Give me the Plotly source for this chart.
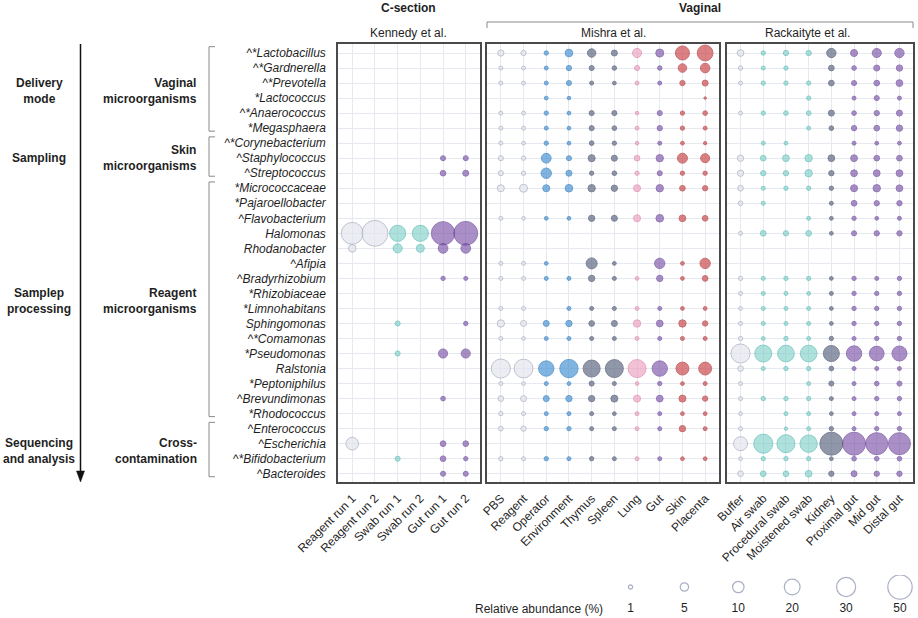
import math
import plotly.graph_objects as go
from plotly.subplots import make_subplots

# ---------------- data ----------------
species = [
    "^*Lactobacillus", "^*Gardnerella", "^*Prevotella", "*Lactococcus", "^*Anaerococcus",
    "*Megasphaera", "^*Corynebacterium", "^Staphylococcus", "^Streptococcus",
    "*Micrococcaceae", "*Pajaroellobacter", "^Flavobacterium", "Halomonas", "Rhodanobacter",
    "^Afipia", "^Bradyrhizobium", "*Rhizobiaceae", "*Limnohabitans", "Sphingomonas",
    "^*Comamonas", "*Pseudomonas", "Ralstonia", "*Peptoniphilus", "^Brevundimonas",
    "*Rhodococcus", "^Enterococcus", "^Escherichia", "^*Bifidobacterium", "^Bacteroides",
]

groups = [
    ("Vaginal<br>microorganisms", "Delivery<br>mode", 0, 5),
    ("Skin<br>microorganisms", "Sampling", 6, 8),
    ("Reagent<br>microorganisms", "Samplep<br>processing", 9, 24),
    ("Cross-<br>contamination", "Sequencing<br>and analysis", 25, 28),
]

kennedy_samples = ["Reagent run 1", "Reagent run 2", "Swab run 1", "Swab run 2", "Gut run 1", "Gut run 2"]
kennedy_types = ["reagent", "reagent", "swab", "swab", "gut", "gut"]
kennedy = [
    [0, 0, 0, 0, 0, 0],
    [0, 0, 0, 0, 0, 0],
    [0, 0, 0, 0, 0, 0],
    [0, 0, 0, 0, 0, 0],
    [0, 0, 0, 0, 0, 0],
    [0, 0, 0, 0, 0, 0],
    [0, 0, 0, 0, 0, 0],
    [0, 0, 0, 0, 1.5, 1.5],
    [0, 0, 0, 0, 2, 2.3],
    [0, 0, 0, 0, 0, 0],
    [0, 0, 0, 0, 0, 0],
    [0, 0, 0, 0, 0, 0],
    [40, 57, 21, 21, 46, 48],
    [4, 0, 6, 4.5, 7, 7],
    [0, 0, 0, 0, 0, 0],
    [0, 0, 0, 0, 1, 0.8],
    [0, 0, 0, 0, 0, 0],
    [0, 0, 0, 0, 0, 0],
    [0, 0, 1.5, 0, 0, 1],
    [0, 0, 0, 0, 0, 0],
    [0, 0, 1.5, 0, 6, 6],
    [0, 0, 0, 0, 0, 0],
    [0, 0, 0, 0, 0, 0],
    [0, 0, 0, 0, 1.2, 0],
    [0, 0, 0, 0, 0, 0],
    [0, 0, 0, 0, 0, 0],
    [12.5, 0, 0, 0, 2, 2],
    [0, 0, 1.5, 0, 2, 1],
    [0, 0, 0, 0, 1.5, 1.5],
]

mishra_samples = ["PBS", "Reagent", "Operator", "Environment", "Thymus", "Spleen", "Lung", "Gut", "Skin", "Placenta"]
mishra_types = ["reagent", "reagent", "operator", "operator", "organ", "organ", "lung", "gut", "skin", "skin"]
mishra = [
    [2.5, 1.7, 1, 4, 5, 2.3, 6, 4.5, 15.5, 20],
    [0.8, 0.8, 0.8, 1.7, 1.5, 1.1, 1.5, 1.1, 5.2, 6.6],
    [0.8, 0.8, 0.8, 1.5, 0.8, 0.7, 0.8, 0.8, 1.7, 2.3],
    [0, 0, 0.7, 0.6, 0, 0, 0, 0, 0, 0.2],
    [0.8, 0.8, 1, 0.7, 1.5, 1.5, 0.6, 1.5, 1, 1.2],
    [0.8, 0.8, 0.8, 0.7, 1.5, 1.2, 0.8, 1.7, 1, 0.8],
    [0.8, 0.7, 1, 0.7, 1.2, 1, 0.6, 0.8, 0.7, 0.5],
    [1.5, 1, 7, 1.5, 3.3, 2.3, 2, 3.7, 7.4, 5.9],
    [1.5, 1, 8, 2.3, 1, 1.2, 1, 1.5, 1, 1],
    [3.3, 4.5, 3.3, 4, 3.7, 2.6, 3.3, 3.7, 2, 1.7],
    [0, 0, 0, 0, 0, 0, 0, 0, 0, 0],
    [0.8, 0.7, 0.7, 0.7, 2.6, 2.3, 3.3, 4, 3, 2],
    [0, 0, 0, 0, 0, 0, 0, 0, 0, 0],
    [0, 0, 0, 0, 0, 0, 0, 0, 0, 0],
    [0.8, 0.8, 0.7, 0, 9.2, 0.7, 0, 8, 0.7, 8],
    [0.8, 0.8, 0.8, 0.8, 2.6, 0.8, 0.7, 2.6, 0.7, 2],
    [0, 0, 0, 0, 0, 0, 0, 0, 0, 0],
    [0.8, 0.8, 0, 0.8, 0.8, 0.8, 0.8, 0.8, 0.7, 0.7],
    [3.7, 2.3, 2.3, 2.6, 2, 2.3, 3.7, 3, 3.7, 1.7],
    [0.8, 0.7, 0.8, 0.8, 0.8, 0.8, 0.8, 0.8, 0.8, 0.8],
    [0, 0, 0, 0, 0, 0, 0, 0, 0, 0],
    [30, 29, 19, 27.5, 23.5, 26.5, 26.5, 19, 13, 13],
    [0.8, 0.7, 0.8, 0.7, 1.5, 0.8, 0.7, 1, 0.7, 0.8],
    [2, 2.3, 2.3, 2.6, 2.6, 3.3, 3.3, 3, 3.3, 1.7],
    [1, 0.8, 0.8, 0.8, 0.8, 0.7, 0.8, 0.8, 0.7, 0.7],
    [1.2, 1.7, 1, 1, 0.8, 0.8, 0.8, 0.8, 2.6, 0.8],
    [0, 0, 0, 0, 0, 0, 0, 0, 0, 0],
    [1, 0.8, 1, 0.8, 1, 0.8, 0.8, 0.8, 0.7, 0.7],
    [0, 0, 0, 0, 0, 0, 0, 0, 0, 0],
]

rack_samples = ["Buffer", "Air swab", "Procedural swab", "Moistened swab", "Kidney", "Proximal gut", "Mid gut", "Distal gut"]
rack_types = ["reagent", "swab", "swab", "swab", "organ", "gut", "gut", "gut"]
rack = [
    [3, 1, 1.7, 1.7, 6.3, 3.3, 5.9, 6.3],
    [1, 0.8, 1, 0, 2, 1.2, 2.3, 2.6],
    [0.8, 1, 1, 1, 2, 1.5, 2, 3],
    [0, 0, 0, 1, 0, 0.8, 1.5, 0.8],
    [0.8, 1, 1.2, 1.2, 2.3, 1.2, 1.7, 2.3],
    [0, 0, 0, 0.8, 1.2, 1.7, 2, 2.6],
    [0, 0.8, 0.7, 0, 0, 0.8, 0.7, 0.7],
    [2.6, 2, 3, 3.7, 3, 3, 2, 2],
    [2.6, 1.7, 1.7, 3.7, 1.7, 3, 3, 3],
    [2, 0.8, 1, 1, 1, 3.3, 3.7, 3],
    [1.2, 0.8, 0, 0, 0.8, 2, 1.7, 1.7],
    [0, 0, 0, 0.8, 0.7, 1, 0.7, 0.8],
    [0.8, 2, 1.7, 2, 0.7, 1.5, 1.7, 1.7],
    [0, 0, 0, 0, 0, 0, 0, 0],
    [0, 0, 0, 0, 0, 0, 0, 0],
    [1, 0.8, 1, 1, 0.7, 1, 0.8, 1],
    [0.8, 0.8, 0.8, 0.7, 0.8, 1, 1, 1],
    [0.7, 0.8, 0.8, 0.8, 0.7, 1, 1, 1],
    [0.8, 0.8, 0.8, 0.8, 0.7, 1, 1, 1],
    [1, 0.7, 1, 0.8, 1, 0.8, 1, 1],
    [30, 23.5, 22.5, 22.5, 20.7, 19, 17.3, 18],
    [2, 0.8, 1, 1, 1.2, 0.8, 0.8, 0.8],
    [0.8, 0, 0, 0.8, 1.5, 0.8, 1.2, 1.5],
    [0.8, 1, 1, 1, 0.8, 0.8, 1, 1],
    [0.7, 0, 0.8, 0.8, 0.7, 0.8, 0.8, 0.8],
    [0.8, 0, 0.5, 0.8, 1, 0.8, 1, 1],
    [15.5, 30, 26.5, 24.5, 44.4, 44.4, 40.5, 40.5],
    [0.7, 1, 1, 1, 0.7, 1.2, 1.2, 1.2],
    [2, 2, 2, 3, 1.7, 2.3, 1.7, 1.7],
]

legend_values = [1, 5, 10, 20, 30, 50]

# ---------------- styles ----------------
FONT = "Liberation Sans, Arial, Helvetica, sans-serif"
TXT = "#1f1f1f"
colors = {
    "reagent": ("rgba(226,228,238,0.92)", "#a6aabf"),
    "swab": ("rgba(120,205,198,0.85)", "#55bbb3"),
    "operator": ("rgba(58,140,208,0.9)", "#2a78bd"),
    "organ": ("rgba(84,96,124,0.92)", "#454f6a"),
    "lung": ("rgba(236,158,190,0.9)", "#de82a8"),
    "gut": ("rgba(120,80,164,0.9)", "#67439a"),
    "skin": ("rgba(200,62,64,0.92)", "#b23436"),
}

W, H = 918, 618
L, R, T, B = 338, 5, 44, 0
PW, PH = W - L - R, H - T - B


def fx(px):
    return (px - L) / PW


def fy(py):
    return (H - B - py) / PH


def msize(v):
    return 1 + 3.3 * math.sqrt(v)


panels = [
    (kennedy_samples, kennedy_types, kennedy, (338, 480)),
    (mishra_samples, mishra_types, mishra, (487, 719)),
    (rack_samples, rack_types, rack, (727, 913)),
]

fig = make_subplots(rows=1, cols=3, shared_yaxes=True, horizontal_spacing=0.01)

for p, (samples, types, mat, _) in enumerate(panels):
    for j, s in enumerate(samples):
        xs, ys, ss = [], [], []
        for i in range(len(species)):
            v = mat[i][j]
            if v > 0:
                xs.append(j)
                ys.append(i)
                ss.append(msize(v))
        fill, edge = colors[types[j]]
        fig.add_trace(
            go.Scatter(
                x=xs, y=ys, mode="markers",
                marker=dict(size=ss, color=fill, line=dict(color=edge, width=1)),
                showlegend=False, hoverinfo="skip",
            ),
            row=1, col=p + 1,
        )

y_dom = [fy(482), 1]
axis_common = dict(showline=True, mirror=True, linecolor="#4a4a4a", linewidth=1.5,
                   showgrid=True, gridcolor="#e7e9f0", gridwidth=1, zeroline=False)

for p, (samples, types, mat, (x0, x1)) in enumerate(panels):
    n = len(samples)
    step = 22.7
    pad_l = (x1 - x0 - (n - 1) * step) / 2 / step
    xa = dict(axis_common, domain=[fx(x0), fx(x1)], range=[-pad_l, n - 1 + pad_l],
              tickmode="array", tickvals=list(range(n)), ticktext=samples, tickangle=-45,
              ticks="outside", ticklen=3, tickcolor="rgba(0,0,0,0)",
              tickfont=dict(family=FONT, size=12, color=TXT))
    ya = dict(axis_common, domain=y_dom, range=[28.55, -0.6], tickmode="array",
              tickvals=list(range(len(species))),
              ticktext=["<i>%s</i>" % s for s in species],
              ticks="outside", ticklen=8, tickcolor="rgba(0,0,0,0)",
              tickfont=dict(family=FONT, size=12, color=TXT))
    if p > 0:
        ya["showticklabels"] = False
        ya["ticks"] = ""
    suffix = "" if p == 0 else str(p + 1)
    fig.layout["xaxis" + suffix].update(xa)
    fig.layout["yaxis" + suffix].update(ya)

# legend key axes
lstep = 53.9
l0 = 630.5
fig.update_layout(
    xaxis4=dict(domain=[fx(600), 1], anchor="y4", range=[-(l0 - 600) / lstep, (913 - l0) / lstep],
                visible=False, fixedrange=True),
    yaxis4=dict(domain=[0, fy(575)], anchor="x4", range=[-(618 - 587) / 22, (587 - 575) / 22],
                visible=False, fixedrange=True),
)
fig.add_trace(go.Scatter(
    x=list(range(len(legend_values))), y=[0] * len(legend_values), mode="markers",
    marker=dict(size=[msize(v) for v in legend_values], color="white",
                line=dict(color="#8890ae", width=1.2)),
    xaxis="x4", yaxis="y4", showlegend=False, hoverinfo="skip"))
fig.add_trace(go.Scatter(
    x=list(range(len(legend_values))), y=[-1] * len(legend_values), mode="text",
    text=[str(v) for v in legend_values], textfont=dict(family=FONT, size=12, color=TXT),
    xaxis="x4", yaxis="y4", showlegend=False, hoverinfo="skip"))

annotations = []
shapes = []

# group labels, stage labels and brackets
for gname, stage, r0, r1 in groups:
    yc = (r0 + r1) / 2
    annotations.append(dict(x=fx(199), xref="paper", y=yc, yref="y", text="<b>%s</b>" % gname,
                            xanchor="right", yanchor="middle", align="right", showarrow=False,
                            font=dict(family=FONT, size=12, color=TXT)))
    annotations.append(dict(x=fx(39), xref="paper", y=yc, yref="y", text="<b>%s</b>" % stage,
                            xanchor="center", yanchor="middle", align="center", showarrow=False,
                            font=dict(family=FONT, size=12, color=TXT)))
    ya_, yb_ = r0 - 0.42, r1 + 0.2
    bc = "#8a8a8a"
    shapes.append(dict(type="line", xref="paper", yref="y", x0=fx(209), x1=fx(209), y0=ya_, y1=yb_,
                       line=dict(color=bc, width=1)))
    shapes.append(dict(type="line", xref="paper", yref="y", x0=fx(209), x1=fx(215), y0=ya_, y1=ya_,
                       line=dict(color=bc, width=1)))
    shapes.append(dict(type="line", xref="paper", yref="y", x0=fx(209), x1=fx(215), y0=yb_, y1=yb_,
                       line=dict(color=bc, width=1)))

# vertical arrow
shapes.append(dict(type="line", xref="paper", yref="paper", x0=fx(80.5), x1=fx(80.5),
                   y0=fy(44), y1=fy(473), line=dict(color="#111", width=1.5)))
shapes.append(dict(type="path", xref="paper", yref="paper",
                   path="M %f %f L %f %f L %f %f Z" % (fx(76.5), fy(471), fx(84.5), fy(471), fx(80.5), fy(482)),
                   fillcolor="#111", line=dict(color="#111", width=0.5)))

# top headers
annotations += [
    dict(x=fx(408.5), y=fy(8), xref="paper", yref="paper", text="<b>C-section</b>", showarrow=False,
         xanchor="center", yanchor="middle", font=dict(family=FONT, size=12, color=TXT)),
    dict(x=fx(700), y=fy(8), xref="paper", yref="paper", text="<b>Vaginal</b>", showarrow=False,
         xanchor="center", yanchor="middle", font=dict(family=FONT, size=12, color=TXT)),
    dict(x=fx(408), y=fy(33), xref="paper", yref="paper", text="Kennedy et al.", showarrow=False,
         xanchor="center", yanchor="middle", font=dict(family=FONT, size=12, color=TXT)),
    dict(x=fx(613), y=fy(33), xref="paper", yref="paper", text="Mishra et al.", showarrow=False,
         xanchor="center", yanchor="middle", font=dict(family=FONT, size=12, color=TXT)),
    dict(x=fx(807), y=fy(33), xref="paper", yref="paper", text="Rackaityte et al.", showarrow=False,
         xanchor="center", yanchor="middle", font=dict(family=FONT, size=12, color=TXT)),
    dict(x=fx(605), y=fy(609), xref="paper", yref="paper", text="Relative abundance (%)", showarrow=False,
         xanchor="right", yanchor="middle", font=dict(family=FONT, size=12, color=TXT)),
]
vc = "#8a8a8a"
shapes.append(dict(type="line", xref="paper", yref="paper", x0=fx(487), x1=fx(913), y0=fy(22), y1=fy(22),
                   line=dict(color=vc, width=1)))
shapes.append(dict(type="line", xref="paper", yref="paper", x0=fx(487), x1=fx(487), y0=fy(22), y1=fy(28),
                   line=dict(color=vc, width=1)))
shapes.append(dict(type="line", xref="paper", yref="paper", x0=fx(913), x1=fx(913), y0=fy(22), y1=fy(28),
                   line=dict(color=vc, width=1)))

fig.update_layout(
    width=W, height=H,
    margin=dict(l=L, r=R, t=T, b=B),
    paper_bgcolor="white", plot_bgcolor="white",
    font=dict(family=FONT, size=12, color=TXT),
    annotations=annotations, shapes=shapes, showlegend=False,
)

fig.write_html("out.html", config={"displayModeBar": False},
               post_script="document.body.style.margin='0';document.body.style.overflow='hidden';")
